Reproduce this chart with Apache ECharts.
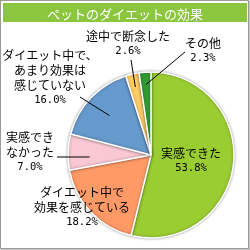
<!DOCTYPE html>
<html><head><meta charset="utf-8">
<script src="https://cdn.jsdelivr.net/npm/echarts@6/dist/echarts.min.js"></script>
<style>
html,body{margin:0;padding:0;background:#fff;}
#frame{position:absolute;left:0;top:0;width:247px;height:247px;border:1px solid #9a9a9a;box-shadow:1px 1px 0 #c8c8c8;}
#chart{position:absolute;left:0;top:0;width:250px;height:250px;}
</style>
</head><body>
<div id="frame"></div>
<div id="chart"></div>
<script>
const titleText = 'ペットのダイエットの効果';
const categories = ['実感できた', 'ダイエット中で\n効果を感じている', '実感でき\nなかった', 'ダイエット中で、\nあまり効果は\n感じていない', '途中で断念した', 'その他'];
const values = [53.8, 18.2, 7.0, 16.0, 2.6, 2.3];
const colors = ['#9acd32', '#ff9966', '#f9c8d3', '#6699cc', '#ffcc66', '#339933'];

const CX = 151, CY = 155, R = 83;
// label block centre; leader line: start at rf*R along the slice's mid angle, end at (endX, endY)
const labelSpec = [
  {x: 191, y: 161},
  {x: 82, y: 207},
  {x: 30, y: 152, endX: 57, endY: 157, rf: 0.74, flat: true},
  {x: 50, y: 78, endX: 80, endY: 97, rf: 0.69},
  {x: 128, y: 44, endX: 131, endY: 60, rf: 0.84},
  {x: 203, y: 51, endX: 185, endY: 52, rf: 0.85}
];
const total = values.reduce((a, b) => a + b, 0);
function midAngle(i) {
  let c = 0;
  for (let k = 0; k < i; k++) c += values[k];
  c += values[i] / 2;
  return c / total * Math.PI * 2;
}
const leaderLines = [];
labelSpec.forEach((s, i) => {
  if (s.endX === undefined) return;
  const a = midAngle(i);
  const sx = CX + Math.sin(a) * R * s.rf;
  const sy = s.flat ? s.endY : CY - Math.cos(a) * R * s.rf;
  leaderLines.push({
    type: 'line', z: 100, silent: true,
    shape: {x1: sx, y1: sy, x2: s.endX, y2: s.endY},
    style: {stroke: '#000', lineWidth: 1}
  });
});

const chart = echarts.init(document.getElementById('chart'), null, {renderer: 'canvas'});
chart.setOption({
  animation: false,
  graphic: [{
    type: 'rect', z: 0,
    shape: {x: 3, y: 3, width: 244, height: 19},
    style: {fill: '#8cc63f'}
  }].concat(leaderLines),
  title: {
    text: titleText, left: 'center', top: 3,
    textStyle: {color: '#fff', fontSize: 13, fontWeight: 'normal', fontFamily: 'Noto Sans CJK JP'}
  },
  series: [{
    type: 'pie',
    center: [CX, CY],
    radius: [0, R],
    startAngle: 90,
    clockwise: true,
    avoidLabelOverlap: false,
    data: categories.map((n, i) => ({name: n, value: values[i], itemStyle: {color: colors[i]}})),
    itemStyle: {borderColor: '#fff', borderWidth: 1.5, shadowBlur: 3, shadowColor: 'rgba(0,0,0,0.35)'},
    label: {
      show: true,
      position: 'outside',
      overflow: 'none',
      width: 200,
      formatter: p => p.name.split('\n').map(s => '{a|' + s + '}').join('\n') + '\n{b|' + p.value.toFixed(1) + '%}',
      align: 'center',
      rich: {
        a: {fontSize: 12, lineHeight: 15, color: '#000', fontFamily: 'Noto Sans CJK JP', align: 'center'},
        b: {fontSize: 10.5, lineHeight: 15, color: '#000', fontFamily: 'DejaVu Sans Mono', align: 'center'}
      }
    },
    labelLine: {show: false},
    labelLayout: function (params) {
      const s = labelSpec[params.dataIndex];
      return {x: s.x, y: s.y, align: 'center', verticalAlign: 'middle', hideOverlap: false, moveOverlap: null};
    }
  }]
});
</script>
</body></html>
